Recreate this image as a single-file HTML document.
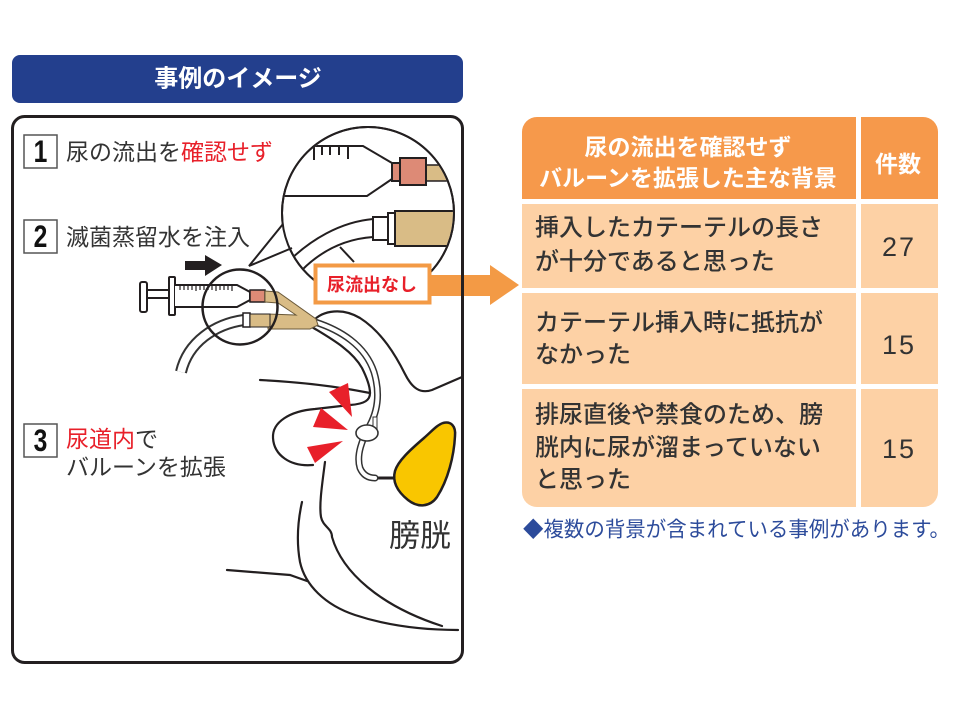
<!DOCTYPE html>
<html><head><meta charset="utf-8">
<style>
html,body{margin:0;padding:0;background:#fff;}
body{width:960px;height:720px;overflow:hidden;}
svg{display:block;}
text{font-family:"Liberation Sans","Noto Sans CJK JP",sans-serif;}
</style></head>
<body>
<svg width="960" height="720" viewBox="0 0 960 720" xmlns="http://www.w3.org/2000/svg">
<defs>
  <clipPath id="bigc"><circle cx="368" cy="213" r="85"/></clipPath>
  <clipPath id="tbl"><rect x="522" y="117" width="416" height="390" rx="15" ry="15"/></clipPath>
</defs>

<!-- header bar -->
<rect x="12" y="55" width="451" height="48" rx="8" fill="#233f8d"/>
<text x="238" y="79" font-size="24" font-weight="bold" fill="#fff" text-anchor="middle" dominant-baseline="central">事例のイメージ</text>

<!-- panel fill -->
<rect x="12.5" y="116.5" width="450" height="546" rx="12" fill="#fff"/>

<!-- number boxes -->
<g fill="#fff" stroke="#555" stroke-width="1.5">
  <rect x="24" y="135" width="33" height="33"/>
  <rect x="24" y="220" width="33" height="33"/>
  <rect x="24" y="424" width="33" height="33"/>
</g>
<g font-size="29" font-weight="bold" fill="#111" text-anchor="middle" dominant-baseline="central">
  <text transform="translate(40.5 152) scale(0.85 1.1)">1</text>
  <text transform="translate(40.5 237) scale(0.85 1.1)">2</text>
  <text transform="translate(40.5 441) scale(0.85 1.1)">3</text>
</g>
<g font-size="23" fill="#333" dominant-baseline="central">
  <text x="66" y="152">尿の流出を<tspan fill="#e8202a">確認せず</tspan></text>
  <text x="66" y="237">滅菌蒸留水を注入</text>
  <text x="66" y="439"><tspan fill="#e8202a">尿道内</tspan>で</text>
  <text x="66" y="467">バルーンを拡張</text>
</g>
<text x="389" y="536" font-size="31" fill="#333" dominant-baseline="central">膀胱</text>

<!-- body lines -->
<g fill="none" stroke="#231f20" stroke-width="2.2" stroke-linecap="round">
  <path d="M312 323 C318 312 340 306 360 318 C382 332 396 356 405 374 C412 388 420 394 432 390 L462 377"/>
  <path d="M312 327 C330 338 352 350 362 368 C367 378 370 386 370 393"/>
  <path d="M260 380 C300 382 340 387 370 393"/>
  <path d="M370 393 C370 400 365 404 350 405 L315 409 C290 411 272 422 273 438 C274 455 290 467 313 465"/>
  <path d="M325 462 C322 485 319 505 321 517 C323 527 332 528 332 537 C342 572 380 606 442 626"/>
  <path d="M302 502 C298 520 296 540 300 562 C305 585 325 605 355 615 C385 625 420 630 458 630"/>
  <path d="M227 570 L290 575 L307 581"/>
</g>

<!-- bladder -->
<path d="M443 423 C451 421 456 426 455 436 C454 456 448 480 437 497 C430 507 418 508 408 500 C398 492 392 482 395 471 C398 461 410 450 424 438 C432 431 437 425 443 423 Z" fill="#f9c600" stroke="#231f20" stroke-width="2.5"/>
<path d="M370 478 L395 478" stroke="#231f20" stroke-width="3"/>

<!-- catheter -->
<path d="M315 322 C340 330 365 345 374 372 C380 392 378 410 370 425 C362 440 356 455 360 468 C363 475 368 478 375 478" fill="none" stroke="#333" stroke-width="7" stroke-linecap="round"/>
<path d="M315 322 C340 330 365 345 374 372 C380 392 378 410 370 425 C362 440 356 455 360 468 C363 475 368 478 375 478" fill="none" stroke="#fff" stroke-width="4" stroke-linecap="round"/>
<rect x="373" y="417" width="4" height="12" fill="#fff" stroke="#333" stroke-width="1"/>
<ellipse cx="367" cy="433" rx="11" ry="8" fill="#fff" stroke="#333" stroke-width="1.6"/>

<!-- red triangles -->
<g fill="#e8202a">
  <polygon points="329,392 348,383 352,417"/>
  <polygon points="313,427 321,408 348,430"/>
  <polygon points="307,447 343,441 315,463"/>
</g>

<!-- drainage tube from small circle -->
<path d="M244 320 C215 324 188 342 181 372" fill="none" stroke="#333" stroke-width="12"/>
<path d="M244 320 C215 324 188 342 181 372" fill="none" stroke="#fff" stroke-width="8"/>

<!-- syringe -->
<g fill="#fff" stroke="#231f20" stroke-width="2">
  <rect x="140" y="282" width="7" height="30" rx="2"/>
  <rect x="147" y="290" width="24" height="8"/>
  <rect x="169" y="277" width="6" height="38" rx="1"/>
  <path d="M175 285 L237 285 L250 292 L250 300 L237 307 L175 307"/>
</g>
<path d="M180 286 v4 M184 286 v4 M188 286 v4 M192 286 v4 M196 286 v5 M200 286 v4 M204 286 v4 M208 286 v4 M212 286 v4 M216 286 v5 M220 286 v4 M224 286 v4 M228 286 v4 M232 286 v5" stroke="#231f20" stroke-width="1.2"/>
<rect x="250" y="290" width="15" height="12" fill="#dd8a76" stroke="#231f20" stroke-width="1.5"/>

<!-- tan Y piece -->
<path d="M265 291 L278 292 L316 319 L318 325 L310 329 L268 329 L268 314 L296 315 L278 303 L265 302 Z" fill="#d9bc86" stroke="#6b5a3a" stroke-width="1"/>
<rect x="243" y="313" width="7" height="14" fill="#fff" stroke="#231f20" stroke-width="1.5"/>
<rect x="250" y="314" width="20" height="13" fill="#d9bc86" stroke="#231f20" stroke-width="1"/>

<!-- small circle -->
<circle cx="240" cy="307" r="37.5" fill="none" stroke="#231f20" stroke-width="2.5"/>

<!-- black arrow -->
<polygon points="185,261 205,261 205,255 222,265 205,276 205,270 185,270" fill="#231f20"/>

<!-- big magnified circle -->
<circle cx="368" cy="213" r="86" fill="#fff" stroke="#231f20" stroke-width="2"/>
<polygon points="284,222 249,266 292,248" fill="#fff"/>
<path d="M283 224 L249 266 L292 248" fill="none" stroke="#231f20" stroke-width="2"/>
<g clip-path="url(#bigc)">
  <path d="M280 146 L363 146 L392 163 M280 196 L367 196 L392 179" fill="none" stroke="#231f20" stroke-width="2"/>
  <path d="M314 146 v14 M322 146 v9 M330 146 v9 M339 146 v9 M348 146 v13" stroke="#231f20" stroke-width="2"/>
  <rect x="425" y="165" width="40" height="16" fill="#d9bc86" stroke="#231f20" stroke-width="1.5"/>
  <rect x="392" y="163" width="8" height="18" fill="#dd8a76" stroke="#231f20" stroke-width="2"/>
  <rect x="400" y="158" width="26" height="27" fill="#dd8a76" stroke="#231f20" stroke-width="2"/>
  <path d="M373 219 C340 222 310 240 288 262" fill="none" stroke="#231f20" stroke-width="2"/>
  <path d="M373 237 C345 239 322 250 302 270" fill="none" stroke="#231f20" stroke-width="2"/>
  <path d="M340 247 L354 262" stroke="#231f20" stroke-width="2"/>
  <rect x="373" y="217" width="15" height="23" fill="#fff" stroke="#231f20" stroke-width="2"/>
  <rect x="388" y="213" width="7" height="31" fill="#fff" stroke="#231f20" stroke-width="2"/>
  <rect x="395" y="211" width="70" height="35" fill="#d9bc86" stroke="#231f20" stroke-width="2"/>
</g>
<circle cx="368" cy="213" r="86" fill="none" stroke="#231f20" stroke-width="2"/>

<!-- orange arrow -->
<polygon points="426,275 490,275 490,265 519,285 490,305 490,296 426,296" fill="#f39a45"/>
<!-- label box -->
<rect x="315.5" y="265.5" width="114" height="37" fill="#fff" stroke="#f39a45" stroke-width="4"/>
<text x="372" y="285" font-size="18" font-weight="bold" fill="#e8202a" text-anchor="middle" dominant-baseline="central">尿流出なし</text>

<!-- panel border on top -->
<rect x="12.5" y="116.5" width="450" height="546" rx="12" fill="none" stroke="#231f20" stroke-width="3"/>

<!-- table -->
<g clip-path="url(#tbl)">
  <rect x="522" y="117" width="416" height="82" fill="#f6994b"/>
  <rect x="522" y="199" width="416" height="308" fill="#fdd1a5"/>
  <rect x="856" y="117" width="5" height="390" fill="#fff"/>
  <rect x="522" y="199" width="416" height="5" fill="#fff"/>
  <rect x="522" y="288" width="416" height="5" fill="#fff"/>
  <rect x="522" y="384" width="416" height="5" fill="#fff"/>
</g>
<g font-size="23" font-weight="bold" fill="#fff" text-anchor="middle" dominant-baseline="central">
  <text x="688" y="147">尿の流出を確認せず</text>
  <text x="688" y="178">バルーンを拡張した主な背景</text>
  <text x="898" y="164">件数</text>
</g>
<g font-size="24" font-weight="500" fill="#333" dominant-baseline="central">
  <text x="535" y="228">挿入したカテーテルの長さ</text>
  <text x="535" y="262">が十分であると思った</text>
  <text x="535" y="323">カテーテル挿入時に抵抗が</text>
  <text x="535" y="355">なかった</text>
  <text x="535" y="415">排尿直後や禁食のため、膀</text>
  <text x="535" y="448">胱内に尿が溜まっていない</text>
  <text x="535" y="480">と思った</text>
</g>
<g font-size="27" fill="#333" text-anchor="middle" dominant-baseline="central" letter-spacing="2">
  <text x="899" y="247">27</text>
  <text x="899" y="345">15</text>
  <text x="899" y="449">15</text>
</g>
<text x="523" y="530" font-size="21" fill="#2c4b9b" dominant-baseline="central" textLength="427" lengthAdjust="spacingAndGlyphs">◆複数の背景が含まれている事例があります。</text>
</svg>
</body></html>
